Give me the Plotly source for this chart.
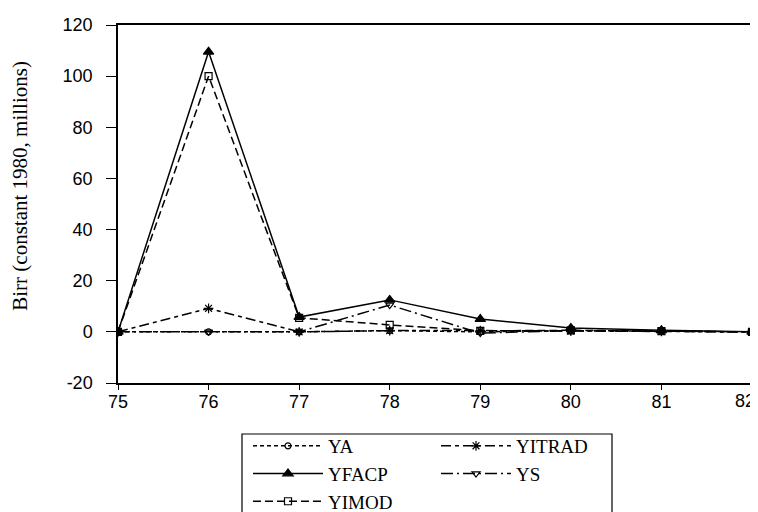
import plotly.graph_objects as go

years = [75, 76, 77, 78, 79, 80, 81, 82]
YA = [0, 0, 0, 0.5, 0, 0.5, 0.3, 0]
YITRAD = [0, 9.2, 0, 0.5, 0.5, 0.3, 0.2, 0]
YFACP = [0, 109.5, 5.8, 12.5, 5, 1.5, 0.6, 0]
YS = [0, 0, 0, 10.5, -0.5, 0.5, 0.3, 0]
YIMOD = [0, 100, 5.5, 2.7, 0.4, 0.6, 0.3, 0]

x_ticks = [75, 76, 77, 78, 79, 80, 81, 82]
x_ticktext = ["75", "76", "77", "78", "79", "80", "81", "82"]
y_ticks = [-20, 0, 20, 40, 60, 80, 100, 120]

series = [
    ("YA", YA, "4px,3px", "circle-open", 6, "legend"),
    ("YFACP", YFACP, "solid", "triangle-up", 9, "legend"),
    ("YIMOD", YIMOD, "8px,4px", "square-open", 7, "legend"),
    ("YITRAD", YITRAD, "10px,4px,4px,4px", "asterisk-open", 8, "legend2"),
    ("YS", YS, "12px,4px,2px,4px", "triangle-down-open", 7, "legend2"),
]

# The page body has an 8px margin, so the figure is 8px smaller each way
W, H = 750, 504
OFF = 8

fig = go.Figure()
for name, vals, dash, sym, size, leg in series:
    fig.add_trace(go.Scatter(
        x=years, y=vals, name=name, mode="lines+markers", legend=leg,
        line=dict(color="black", width=1.5, dash=dash),
        marker=dict(symbol=sym, size=size, color="black",
                    line=dict(color="black", width=1.2)),
    ))

leg_common = dict(
    orientation="v", xanchor="left", yanchor="top",
    xref="container", yref="container",
    itemwidth=70, borderwidth=0, bgcolor="rgba(0,0,0,0)",
    font=dict(family="Liberation Serif", size=19, color="black"),
    traceorder="normal",
)

# last tick label is drawn as an annotation so it can sit inside the page edge
last_label = dict(
    text=x_ticktext[-1], x=x_ticks[-1], xref="x", y=0, yref="paper",
    xanchor="right", yanchor="top", xshift=5, yshift=-6, showarrow=False,
    font=dict(family="Liberation Sans", size=18, color="black"),
)

fig.update_layout(
    width=W, height=H,
    paper_bgcolor="white", plot_bgcolor="white",
    margin=dict(l=118 - OFF, r=6, t=25 - OFF, b=H - (383 - OFF), autoexpand=False),
    font=dict(family="Liberation Sans", color="black", size=18),
    showlegend=True,
    legend=dict(x=(248 - OFF) / W, y=1 - (427 - OFF) / H, **leg_common),
    legend2=dict(x=(436 - OFF) / W, y=1 - (427 - OFF) / H, **leg_common),
    shapes=[dict(
        type="rect", xref="paper", yref="paper",
        x0=(242 - 118) / 634, x1=(612 - 118) / 634,
        y0=-0.6, y1=(383 - 434) / 358,
        line=dict(color="black", width=1.2), fillcolor="rgba(0,0,0,0)", layer="below",
    )],
    annotations=[
        dict(
            text="Birr (constant 1980, millions)", textangle=-90,
            xref="paper", yref="paper", x=-0.155, y=(383 - 186) / 358,
            xanchor="center", yanchor="middle",
            showarrow=False, font=dict(family="Liberation Serif", size=21, color="black"),
        ),
        last_label,
    ],
)
fig.update_xaxes(
    range=[75, 82], tickvals=x_ticks, ticktext=x_ticktext[:-1] + [""],
    showgrid=False, zeroline=False, showline=True, linecolor="black",
    linewidth=1.5, mirror=True, ticks="outside", ticklen=5, tickcolor="black",
    tickfont=dict(family="Liberation Sans", size=18),
    ticklabelstandoff=-3,
)
fig.update_yaxes(
    range=[-20, 120], tickvals=y_ticks, ticktext=[str(v) for v in y_ticks],
    showgrid=False, zeroline=False, showline=True, linecolor="black",
    linewidth=1.5, mirror=True, ticks="outside", ticklen=10, tickcolor="black",
    tickfont=dict(family="Liberation Sans", size=18), ticklabelstandoff=10,
)

fig.write_html("out.html")
